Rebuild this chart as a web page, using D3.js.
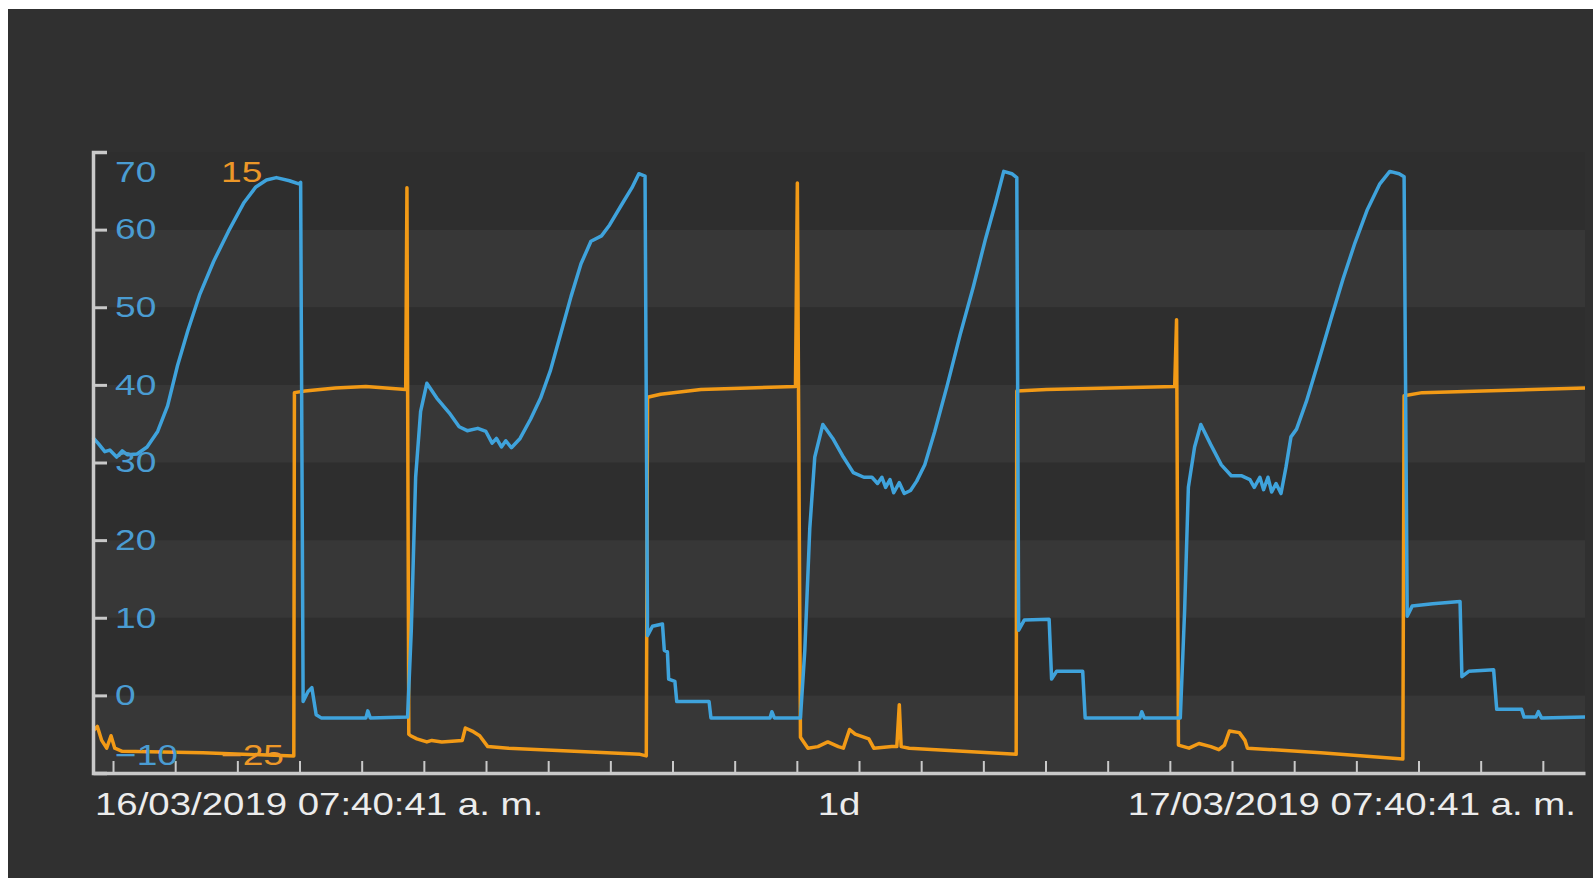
<!DOCTYPE html>
<html>
<head>
<meta charset="utf-8">
<script src="https://cdnjs.cloudflare.com/ajax/libs/d3/7.8.5/d3.min.js"></script>
<style>
html, body { margin: 0; padding: 0; background: #fff; }
svg { display: block; }
</style>
</head>
<body>
<svg id="trend" width="1593" height="878"></svg>
<script>
var startTime = new Date(2019, 2, 16, 7, 40, 41),
	endTime = new Date(2019, 2, 17, 7, 40, 41);

var xLabels = ["16/03/2019 07:40:41 a. m.", "1d", "17/03/2019 07:40:41 a. m."];
var blueTicks = [-10, 0, 10, 20, 30, 40, 50, 60, 70];
var orangeTicks = [-25, 15];

// [hours after startTime, value]
var blueSeries = [
	[0, 33.2], [0.09, 32.4], [0.19, 31.4], [0.27, 31.6], [0.38, 30.7], [0.47, 31.5], [0.55, 31.0],
	[0.71, 31.1], [0.87, 32.0], [1.04, 34.0], [1.20, 37.3], [1.36, 42.5], [1.53, 47.1], [1.72, 51.7],
	[1.94, 55.9], [2.18, 59.8], [2.43, 63.5], [2.62, 65.5], [2.79, 66.4], [2.95, 66.7], [3.16, 66.3],
	[3.31, 65.9], [3.34, 66.1], [3.38, -0.8], [3.46, 0.5], [3.52, 1.0], [3.59, -2.5], [3.67, -2.9],
	[4.39, -2.9], [4.42, -2.0], [4.46, -2.9], [5.06, -2.8], [5.12, 8.4], [5.19, 28.1], [5.27, 36.6],
	[5.37, 40.2], [5.53, 38.3], [5.73, 36.4], [5.89, 34.6], [6.02, 34.1], [6.19, 34.4], [6.32, 34.0],
	[6.42, 32.5], [6.49, 33.1], [6.57, 32.0], [6.64, 32.8], [6.73, 31.9], [6.87, 33.1], [7.04, 35.6],
	[7.20, 38.3], [7.36, 41.9], [7.52, 46.5], [7.69, 51.4], [7.85, 55.6], [8.01, 58.5], [8.18, 59.2],
	[8.31, 60.6], [8.51, 63.3], [8.67, 65.4], [8.78, 67.2], [8.88, 66.9], [8.92, 7.7], [9.00, 8.9],
	[9.16, 9.2], [9.19, 5.8], [9.24, 5.6], [9.26, 2.1], [9.36, 1.8], [9.39, -0.8], [9.91, -0.8],
	[9.94, -2.9], [10.89, -2.9], [10.92, -2.1], [10.96, -2.9], [11.38, -2.9], [11.45, 5.8], [11.53, 21.5],
	[11.61, 30.7], [11.74, 34.9], [11.90, 33.1], [12.07, 30.7], [12.23, 28.7], [12.40, 28.1], [12.53, 28.1],
	[12.62, 27.3], [12.69, 28.1], [12.75, 26.8], [12.82, 27.8], [12.88, 26.1], [12.97, 27.4], [13.05, 26.0],
	[13.15, 26.4], [13.25, 27.6], [13.38, 29.7], [13.54, 34.0], [13.74, 39.9], [13.95, 46.5], [14.16, 52.6],
	[14.36, 58.9], [14.52, 63.5], [14.65, 67.5], [14.78, 67.2], [14.86, 66.7], [14.89, 8.4], [14.98, 9.7],
	[15.38, 9.8], [15.42, 2.1], [15.50, 3.1], [15.92, 3.1], [15.96, -2.9], [16.84, -2.9], [16.87, -2.1],
	[16.91, -2.9], [17.49, -2.9], [17.56, 11.0], [17.62, 26.8], [17.72, 32.0], [17.82, 34.9], [17.98, 32.3],
	[18.15, 29.7], [18.31, 28.3], [18.47, 28.3], [18.61, 27.8], [18.68, 26.8], [18.77, 28.1], [18.83, 26.5],
	[18.90, 28.1], [18.96, 26.2], [19.03, 27.3], [19.11, 26.0], [19.19, 29.4], [19.27, 33.3], [19.36, 34.3],
	[19.52, 37.9], [19.72, 43.2], [19.91, 48.4], [20.11, 53.7], [20.30, 58.3], [20.50, 62.6], [20.70, 65.9],
	[20.86, 67.5], [21.01, 67.2], [21.09, 66.8], [21.14, 10.2], [21.22, 11.5], [21.55, 11.8], [21.99, 12.1],
	[22.02, 2.4], [22.13, 3.1], [22.53, 3.3], [22.58, -1.8], [22.98, -1.8], [23.02, -2.8], [23.21, -2.8],
	[23.25, -2.1], [23.30, -2.9], [24.0, -2.8]
];

var orangeSeries = [
	[0, -22.3], [0.07, -22.0], [0.14, -22.9], [0.22, -23.4], [0.29, -22.6], [0.35, -23.4], [0.47, -23.6],
	[1.77, -23.7], [3.23, -23.9], [3.24, -0.5], [3.41, -0.4], [3.90, -0.2], [4.39, -0.1], [5.03, -0.3],
	[5.05, 12.7], [5.08, -22.5], [5.11, -22.6], [5.21, -22.8], [5.37, -23.0], [5.45, -22.9], [5.61, -23.0],
	[5.94, -22.9], [5.99, -22.1], [6.10, -22.3], [6.22, -22.6], [6.35, -23.3], [6.68, -23.4], [8.80, -23.8],
	[8.90, -23.9], [8.92, -0.8], [9.13, -0.6], [9.78, -0.3], [11.30, -0.1], [11.33, 13.0], [11.38, -22.7],
	[11.50, -23.4], [11.66, -23.3], [11.82, -23.0], [11.99, -23.3], [12.07, -23.4], [12.17, -22.2],
	[12.26, -22.5], [12.48, -22.8], [12.56, -23.4], [12.85, -23.3], [12.93, -23.3], [12.97, -20.6],
	[13.00, -23.3], [13.13, -23.4], [14.85, -23.8], [14.86, -0.4], [15.34, -0.3], [17.40, -0.1],
	[17.43, 4.2], [17.46, -23.2], [17.63, -23.4], [17.79, -23.1], [17.98, -23.3], [18.11, -23.5],
	[18.20, -23.2], [18.28, -22.3], [18.44, -22.4], [18.53, -22.9], [18.57, -23.4], [19.75, -23.7],
	[21.07, -24.1], [21.09, -0.7], [21.38, -0.5], [24.0, -0.2]
];

var svg = d3.select("svg#trend");

var x = d3.scaleTime().domain([startTime, endTime]).range([93, 1585]),
	yBlue = d3.scaleLinear().domain([-10, 70]).range([773, 152]),
	yOrange = d3.scaleLinear().domain([-25, 15]).range([773, 152]);

function atHour(h) { return new Date(+startTime + h * 3600e3); }

// panel
svg.append("rect")
	.attr("x", 8).attr("y", 9)
	.attr("width", 1585).attr("height", 869)
	.attr("fill", "#303030");

// alternating bands
svg.append("g")
	.selectAll("rect")
	.data(d3.pairs(blueTicks))
	.enter().append("rect")
	  .attr("x", x.range()[0])
	  .attr("width", x.range()[1] - x.range()[0])
	  .attr("y", function(d) { return yBlue(d[1]); })
	  .attr("height", function(d) { return yBlue(d[0]) - yBlue(d[1]); })
	  .attr("fill", function(d, i) { return i % 2 == 0 ? "#373737" : "#2e2e2e"; });

var lineOrange = d3.line()
	.x(function(d) { return x(atHour(d[0])); })
	.y(function(d) { return yOrange(d[1]); });

var lineBlue = d3.line()
	.x(function(d) { return x(atHour(d[0])); })
	.y(function(d) { return yBlue(d[1]); });

svg.append("path")
	.datum(orangeSeries)
	.attr("d", lineOrange)
	.attr("fill", "none")
	.attr("stroke", "#f29a16")
	.attr("stroke-width", 3.5)
	.attr("stroke-linejoin", "round");

svg.append("path")
	.datum(blueSeries)
	.attr("d", lineBlue)
	.attr("fill", "none")
	.attr("stroke", "#3fa3dc")
	.attr("stroke-width", 3.5)
	.attr("stroke-linejoin", "round");

// x axis, hourly ticks pointing up
var xAxis = svg.append("g")
	.attr("transform", "translate(0,773)")
	.call(d3.axisBottom(x).ticks(d3.timeHour.every(1)).tickSize(-12).tickSizeOuter(0).tickFormat(""));
xAxis.select(".domain").attr("stroke", "#c9c9c9").attr("stroke-width", 3.5);
xAxis.selectAll(".tick line").attr("stroke", "#c9c9c9").attr("stroke-width", 2);

// blue y axis
var yAxis = svg.append("g")
	.attr("transform", "translate(93,0)")
	.call(d3.axisRight(yBlue).tickValues(blueTicks).tickSize(14).tickSizeOuter(14).tickPadding(8));
yAxis.select(".domain").attr("stroke", "#c9c9c9").attr("stroke-width", 3.5).attr("fill", "none");
yAxis.selectAll(".tick line").attr("stroke", "#c9c9c9").attr("stroke-width", 3);
yAxis.selectAll(".tick text")
	.attr("x", 22 / 1.28)
	.attr("y", function(d) { return d == 70 ? 20 : d == -10 ? -18 : 0; })
	.attr("transform", "scale(1.28,1)")
	.attr("fill", "#4a9cd2")
	.style("font", "29px 'Liberation Sans', Arial, sans-serif");

// orange y labels
var yAxis2 = svg.append("g")
	.attr("transform", "translate(221,0)")
	.call(d3.axisRight(yOrange).tickValues(orangeTicks).tickSize(0).tickPadding(0));
yAxis2.select(".domain").remove();
yAxis2.selectAll(".tick text")
	.attr("x", 0)
	.attr("y", function(d) { return d == 15 ? 20 : -18; })
	.attr("transform", "scale(1.28,1)")
	.attr("fill", "#ec9728")
	.style("font", "29px 'Liberation Sans', Arial, sans-serif");

// time labels under the axis
var labelPos = [[95, "start"], [839, "middle"], [1576, "end"]];
svg.append("g")
	.selectAll("text")
	.data(xLabels)
	.enter().append("text")
	  .attr("transform", function(d, i) { return "translate(" + labelPos[i][0] + ",815) scale(1.2,1)"; })
	  .attr("text-anchor", function(d, i) { return labelPos[i][1]; })
	  .attr("fill", "#ececec")
	  .style("font", "32px 'Liberation Sans', Arial, sans-serif")
	  .text(function(d) { return d; });
</script>
</body>
</html>
